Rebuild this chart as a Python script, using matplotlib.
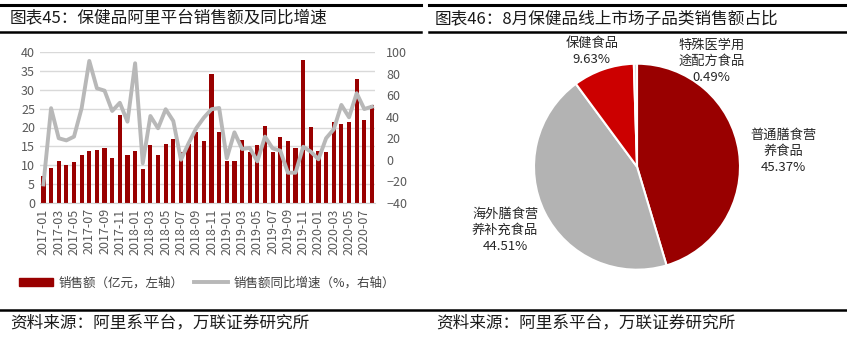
import numpy as np
import matplotlib
matplotlib.use("Agg")
import matplotlib.pyplot as plt
from matplotlib.lines import Line2D
from matplotlib.patches import Patch

plt.rcParams["font.family"] = ["Noto Sans CJK SC", "DejaVu Sans"]

# ===== Data =====
months = [f"{y}-{m:02d}" for y in (2017, 2018, 2019) for m in range(1, 13)] + \
         [f"2020-{m:02d}" for m in range(1, 9)]

sales = [7.2, 9.3, 11.1, 10.1, 10.9, 12.7, 13.8, 14.0, 14.5, 11.9, 23.4, 12.7,
         13.8, 9.0, 15.4, 12.7, 15.6, 17.0, 13.4, 15.5, 18.8, 16.5, 34.3, 18.8,
         11.2, 11.1, 16.7, 13.4, 15.3, 20.4, 13.6, 17.5, 16.4, 14.5, 38.0, 20.1,
         13.7, 13.5, 21.5, 20.9, 21.5, 32.9, 22.0, 26.0]

yoy = [-23, 48, 20, 18, 21.5, 48, 92, 66.5, 64.3, 45.4, 53, 35.4,
       89.8, -3.3, 40.7, 29.3, 47, 36, 0, 15.3, 29.3, 39.2, 47, 48.2,
       1.3, 25.5, 10, 11, -1.5, 21.5, 10.6, 8.4, -12.1, -12.1, 12.1, 7.5,
       0.4, 20, 28.3, 51, 39.5, 61.9, 47.2, 49.4]

pie_labels = ["普通膳食营\n养食品", "海外膳食营\n养补充食品", "保健食品", "特殊医学用\n途配方食品"]
pie_shares = [45.37, 44.51, 9.63, 0.49]
pie_colors = ["#990000", "#b3b3b3", "#cc0000", "#d9d9d9"]

W, H = 847, 338
fig = plt.figure(figsize=(W / 100, H / 100), dpi=100)


def fx(px):
    return px / W


def fy(py):
    return 1 - py / H


# ===== Frame rules and titles =====
for x0, x1 in [(0, 421), (429, 847)]:
    fig.add_artist(Line2D([fx(x0), fx(x1)], [fy(5), fy(5)], color="black", lw=2.2))
    fig.add_artist(Line2D([fx(x0), fx(x1)], [fy(32), fy(32)], color="black", lw=1.8))
fig.add_artist(Line2D([0, 1], [fy(310), fy(310)], color="black", lw=1.8))

fig.text(fx(10), fy(18.5), "图表45：保健品阿里平台销售额及同比增速", fontsize=12,
         va="center", ha="left", color="#1a1a1a")
fig.text(fx(435), fy(18.5), "图表46：8月保健品线上市场子品类销售额占比", fontsize=12,
         va="center", ha="left", color="#1a1a1a")
fig.text(fx(10), fy(323), "资料来源：阿里系平台，万联证券研究所", fontsize=12,
         va="center", ha="left", color="#1a1a1a")
fig.text(fx(436), fy(323), "资料来源：阿里系平台，万联证券研究所", fontsize=12,
         va="center", ha="left", color="#1a1a1a")

# ===== Left: bars + yoy line =====
x = np.arange(len(months))
ax = fig.add_axes([fx(40), fy(202.7), fx(375 - 40), (202.7 - 52.3) / H])
ax.bar(x, sales, width=0.55, color="#990000", zorder=2)
ax.set_ylim(0, 40)
ax.set_yticks(np.arange(0, 41, 5))
ax.set_xlim(-0.45, len(months) - 0.6)
ax.yaxis.grid(True, color="#d9d9d9", lw=1, zorder=0)
ax.set_axisbelow(True)
for s in ["top", "left", "right"]:
    ax.spines[s].set_visible(False)
ax.spines["bottom"].set_color("#d0d0d0")
ax.set_xticks(x[::2])
ax.set_xticklabels(months[::2], rotation=90, fontsize=8.5, color="#595959")
ax.tick_params(axis="both", length=0, colors="#595959", labelsize=9)
ax.tick_params(axis="x", pad=4)

ax2 = ax.twinx()
ax2.plot(x, yoy, color="#b8b8b8", lw=2.8, zorder=3)
ax2.set_ylim(-40, 100)
ax2.set_yticks(np.arange(-40, 101, 20))
for s in ["top", "left", "right", "bottom"]:
    ax2.spines[s].set_visible(False)
ax2.tick_params(axis="y", length=0, colors="#595959", labelsize=9, pad=8)

handles = [Patch(color="#990000"), Line2D([], [], color="#b8b8b8", lw=2.8)]
fig.legend(handles, ["销售额（亿元，左轴）", "销售额同比增速（%，右轴）"],
           loc="center", bbox_to_anchor=(fx(207), fy(283)), ncol=2, frameon=False,
           fontsize=9, handlelength=2.7, handleheight=0.6, columnspacing=0.8,
           handletextpad=0.5, labelcolor="#404040")

# ===== Right: pie =====
cx, cy, r = 637, 166.7, 103
axp = fig.add_axes([fx(cx - r), fy(cy + r), 2 * r / W, 2 * r / H])
axp.pie(pie_shares, colors=pie_colors, startangle=90, counterclock=False,
        wedgeprops=dict(edgecolor="white", linewidth=1.5))
axp.set_xlim(-1, 1)
axp.set_ylim(-1, 1)
axp.set_aspect("equal")

label_pos = [(1.42, 0.15), (-1.28, -0.615), (-0.44, 1.12), (0.725, 1.02)]
for lab, val, (lx, ly) in zip(pie_labels, pie_shares, label_pos):
    axp.text(lx, ly, f"{lab}\n{val:.2f}%", ha="center", va="center", fontsize=9.5,
             color="#262626", linespacing=1.3, clip_on=False)

fig.savefig("out.png", dpi=100)
